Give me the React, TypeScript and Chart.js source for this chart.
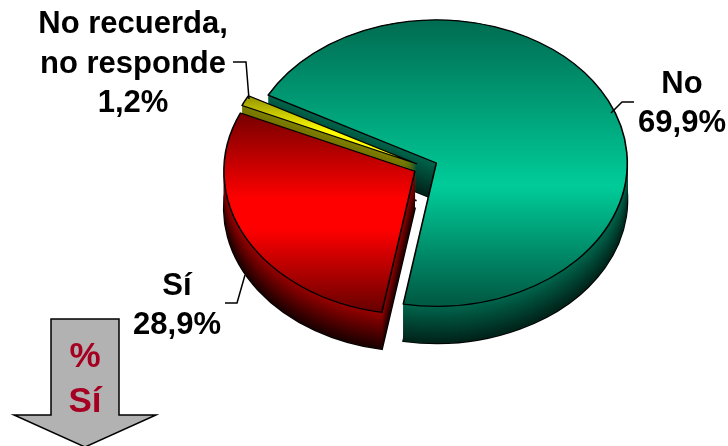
import React, { useEffect, useRef } from "react";
import { Chart, registerables } from "chart.js";

Chart.register(...registerables);

const categories = ["No recuerda, no responde", "No", "Sí"];
const values = [1.2, 69.9, 28.9];
const explode = [10, 12, 12];
const labelLines = [["No recuerda,", "no responde"], ["No"], ["Sí"]];
const arrowLines = ["%", "Sí"];

const FONT = '"Liberation Sans", Arial, sans-serif';
const SQUASH = 0.75;
const DEPTH = 37;
const RADIUS = 191;
const CENTER_Y = 167;

type Stop = [number, string];
// Stops are given at screen y-coordinates
const topStops: Stop[][] = [
  [[98, "#8f8f00"], [135, "#ffff00"], [175, "#ffff00"]],
  [[15, "#00664d"], [190, "#00cc99"], [305, "#005c45"]],
  [[115, "#800000"], [195, "#ff0000"], [225, "#ff0000"], [308, "#660000"]],
];
const wallTop = ["#808000", "#00664d", "#990000"];
const wallBottom = ["#4d4d00", "#00231a", "#1a0000"];

const toChartY = (y: number) => CENTER_Y + (y - CENTER_Y) / SQUASH;

function hex(c: string) {
  return [1, 3, 5].map((i) => parseInt(c.slice(i, i + 2), 16));
}
function mix(a: string, b: string, t: number) {
  const A = hex(a), B = hex(b);
  return `rgb(${A.map((v, i) => Math.round(v + (B[i] - v) * t)).join(",")})`;
}
function faceGradient(ctx: CanvasRenderingContext2D, stops: Stop[]) {
  const y0 = stops[0][0], y1 = stops[stops.length - 1][0];
  const g = ctx.createLinearGradient(0, toChartY(y0), 0, toChartY(y1));
  stops.forEach(([y, c]) => g.addColorStop((y - y0) / (y1 - y0), c));
  return g;
}
function shift(a: any, i: number) {
  const mid = (a.startAngle + a.endAngle) / 2;
  return [Math.cos(mid) * explode[i], Math.sin(mid) * explode[i]];
}

const pie3d = {
  id: "pie3d",
  beforeDatasetDraw(chart: any) {
    const ctx: CanvasRenderingContext2D = chart.ctx;
    const arcs = chart.getDatasetMeta(0).data;
    ctx.save();
    ctx.translate(0, CENTER_Y);
    ctx.scale(1, SQUASH);
    ctx.translate(0, -CENTER_Y);
    // walls back to front: green, yellow, red
    [1, 0, 2].forEach((i) => {
      const a = arcs[i];
      const [dx, dy] = shift(a, i);
      const path = (d: number) => {
        ctx.beginPath();
        ctx.moveTo(a.x + dx, a.y + dy + d / SQUASH);
        ctx.arc(a.x + dx, a.y + dy + d / SQUASH, a.outerRadius, a.startAngle, a.endAngle);
        ctx.closePath();
      };
      ctx.strokeStyle = "#000";
      ctx.lineWidth = 2;
      path(DEPTH);
      ctx.stroke();
      for (let d = DEPTH; d >= 0; d -= 0.5) {
        ctx.fillStyle = mix(wallTop[i], wallBottom[i], d / DEPTH);
        path(d);
        ctx.fill();
      }
    });
    // top faces, in data order
    arcs.forEach((a: any, i: number) => {
      const [dx, dy] = shift(a, i);
      ctx.save();
      ctx.translate(dx, dy);
      a.draw(ctx);
      ctx.restore();
    });
    ctx.restore();
    return false;
  },
  afterDatasetsDraw(chart: any) {
    const ctx: CanvasRenderingContext2D = chart.ctx;

    // leader lines
    const leaders = [
      [[233, 62], [246, 62], [249, 99]],
      [[634, 102], [622, 102], [611, 113]],
      [[225, 303], [237, 303], [245, 275]],
    ];
    ctx.strokeStyle = "#000";
    ctx.lineWidth = 1.5;
    leaders.forEach((pts) => {
      ctx.beginPath();
      pts.forEach(([x, y], j) => (j ? ctx.lineTo(x, y) : ctx.moveTo(x, y)));
      ctx.stroke();
    });

    // slice labels
    const pct = values.map((v) => `${v.toFixed(1).replace(".", ",")}%`);
    ctx.fillStyle = "#000";
    ctx.textAlign = "center";
    ctx.textBaseline = "alphabetic";
    ctx.font = `bold 31px ${FONT}`;
    const anchors = [
      [133, [33, 73, 112]],
      [682, [93, 132]],
      [177, [295, 334]],
    ] as [number, number[]][];
    anchors.forEach(([x, ys], i) => {
      [...labelLines[i], pct[i]].forEach((t, j) => ctx.fillText(t, x, ys[j]));
    });

    // grey arrow
    ctx.beginPath();
    [[51, 319], [119, 319], [119, 415], [156, 415], [85, 447], [14, 415], [51, 415]].forEach(([x, y], j) =>
      j ? ctx.lineTo(x, y) : ctx.moveTo(x, y)
    );
    ctx.closePath();
    ctx.fillStyle = "#b2b2b2";
    ctx.fill();
    ctx.strokeStyle = "#000";
    ctx.lineWidth = 1.5;
    ctx.stroke();
    ctx.fillStyle = "#a50021";
    ctx.font = `bold 35px ${FONT}`;
    ctx.fillText(arrowLines[0], 85, 367);
    ctx.fillText(arrowLines[1], 85, 412);
  },
};

export default function App() {
  const ref = useRef<HTMLCanvasElement>(null);
  useEffect(() => {
    const chart = new Chart(ref.current!, {
      type: "pie",
      data: {
        labels: categories,
        datasets: [
          {
            data: values,
            clip: false,
            borderColor: "#000",
            borderWidth: 1.6,
            borderJoinStyle: "round",
            backgroundColor: (c: any) => faceGradient(c.chart.ctx, topStops[c.dataIndex]),
          } as any,
        ],
      },
      options: {
        animation: false,
        responsive: false,
        events: [],
        rotation: 294,
        radius: RADIUS,
        layout: { padding: { left: 123, right: 0, top: 0, bottom: 446 - 2 * CENTER_Y } },
        plugins: { legend: { display: false }, tooltip: { enabled: false } },
      },
      plugins: [pie3d],
    });
    return () => chart.destroy();
  }, []);
  return (
    <div style={{ position: "absolute", left: 0, top: 0, width: 728, height: 446, overflow: "hidden", background: "#fff" }}>
      <canvas ref={ref} width={728} height={446} style={{ display: "block" }} />
    </div>
  );
}
